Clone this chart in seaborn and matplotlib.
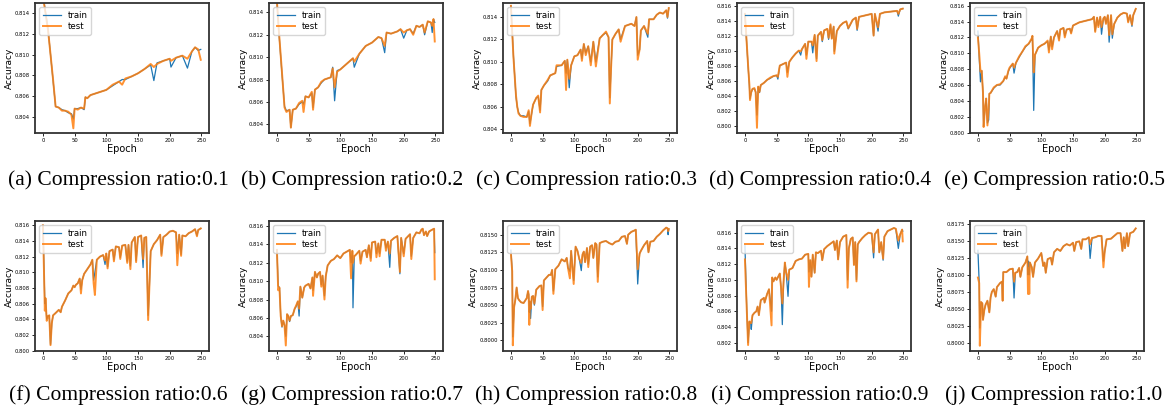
import matplotlib
matplotlib.use("Agg")
import matplotlib.pyplot as plt
import seaborn as sns
from matplotlib.ticker import MultipleLocator

# ---- data (epoch, train accuracy, test accuracy) ----
a_epoch = [0, 8, 12, 16, 20, 25, 30, 35, 40, 45, 48, 50, 55, 60, 65, 67, 70, 75, 80, 90, 100, 110, 120, 125, 130, 140, 150, 160, 170, 175, 180, 190, 200, 202, 210, 220, 228, 235, 240, 245, 249]
a_train = [0.8158, 0.8125, 0.8100, 0.8075, 0.8050, 0.8049, 0.8047, 0.8046, 0.8044, 0.8043, 0.8038, 0.8048, 0.8048, 0.8049, 0.8047, 0.8059, 0.8058, 0.8061, 0.8062, 0.8064, 0.8066, 0.8070, 0.8074, 0.8076, 0.8076, 0.8079, 0.8082, 0.8086, 0.8090, 0.8075, 0.8092, 0.8094, 0.8096, 0.8088, 0.8097, 0.8099, 0.8087, 0.8103, 0.8107, 0.8104, 0.8105]
a_test = [0.8156, 0.8124, 0.8100, 0.8076, 0.8050, 0.8049, 0.8046, 0.8046, 0.8045, 0.8042, 0.8029, 0.8048, 0.8047, 0.8049, 0.8048, 0.8059, 0.8058, 0.8061, 0.8062, 0.8064, 0.8066, 0.8071, 0.8074, 0.8071, 0.8077, 0.8079, 0.8082, 0.8086, 0.8091, 0.8088, 0.8091, 0.8094, 0.8096, 0.8094, 0.8097, 0.8099, 0.8096, 0.8103, 0.8107, 0.8105, 0.8095]

b_epoch = [0, 3, 8, 12, 15, 20, 22, 25, 30, 35, 40, 42, 45, 50, 55, 57, 60, 65, 70, 75, 80, 85, 88, 91, 95, 100, 110, 120, 122, 130, 140, 150, 160, 165, 170, 173, 180, 190, 195, 200, 205, 210, 215, 220, 225, 230, 233, 238, 243, 245, 247, 249]
b_train = [0.8150, 0.8123, 0.8085, 0.8056, 0.8052, 0.8053, 0.8037, 0.8053, 0.8054, 0.8058, 0.8060, 0.8058, 0.8065, 0.8064, 0.8068, 0.8055, 0.8071, 0.8073, 0.8077, 0.8080, 0.8081, 0.8082, 0.8091, 0.8061, 0.8088, 0.8089, 0.8094, 0.8099, 0.8091, 0.8103, 0.8110, 0.8113, 0.8118, 0.8117, 0.8104, 0.8122, 0.8121, 0.8123, 0.8125, 0.8117, 0.8124, 0.8125, 0.8121, 0.8128, 0.8127, 0.8129, 0.8120, 0.8132, 0.8131, 0.8122, 0.8134, 0.8131]
b_test = [0.8150, 0.8124, 0.8086, 0.8055, 0.8051, 0.8053, 0.8037, 0.8053, 0.8054, 0.8059, 0.8061, 0.8051, 0.8065, 0.8064, 0.8069, 0.8053, 0.8071, 0.8073, 0.8078, 0.8080, 0.8081, 0.8082, 0.8090, 0.8073, 0.8087, 0.8089, 0.8094, 0.8099, 0.8096, 0.8103, 0.8110, 0.8113, 0.8118, 0.8117, 0.8110, 0.8122, 0.8121, 0.8123, 0.8125, 0.8122, 0.8124, 0.8125, 0.8120, 0.8128, 0.8127, 0.8129, 0.8122, 0.8132, 0.8131, 0.8128, 0.8134, 0.8114]

c_epoch = [0, 4, 8, 10, 12, 15, 20, 25, 28, 30, 33, 35, 40, 43, 46, 48, 52, 58, 62, 70, 72, 80, 85, 87, 89, 92, 95, 100, 105, 110, 112, 115, 118, 122, 126, 130, 134, 140, 145, 150, 154, 156, 158, 160, 165, 170, 173, 180, 190, 195, 198, 200, 203, 205, 210, 216, 218, 225, 230, 235, 240, 245, 247, 249]
c_train = [0.8150, 0.8105, 0.8069, 0.8060, 0.8055, 0.8052, 0.8052, 0.8051, 0.8056, 0.8045, 0.8055, 0.8062, 0.8068, 0.8069, 0.8057, 0.8075, 0.8079, 0.8083, 0.8088, 0.8090, 0.8096, 0.8097, 0.8101, 0.8090, 0.8102, 0.8077, 0.8097, 0.8105, 0.8106, 0.8111, 0.8103, 0.8116, 0.8108, 0.8114, 0.8100, 0.8118, 0.8100, 0.8121, 0.8124, 0.8126, 0.8122, 0.8068, 0.8095, 0.8120, 0.8125, 0.8129, 0.8120, 0.8132, 0.8134, 0.8132, 0.8140, 0.8106, 0.8111, 0.8128, 0.8132, 0.8122, 0.8138, 0.8138, 0.8142, 0.8144, 0.8143, 0.8146, 0.8139, 0.8148]
c_test = [0.8150, 0.8104, 0.8070, 0.8060, 0.8054, 0.8052, 0.8051, 0.8051, 0.8057, 0.8043, 0.8056, 0.8062, 0.8068, 0.8070, 0.8055, 0.8075, 0.8079, 0.8084, 0.8088, 0.8090, 0.8097, 0.8097, 0.8101, 0.8075, 0.8102, 0.8085, 0.8097, 0.8105, 0.8106, 0.8111, 0.8101, 0.8116, 0.8106, 0.8114, 0.8097, 0.8118, 0.8096, 0.8121, 0.8124, 0.8127, 0.8122, 0.8063, 0.8095, 0.8120, 0.8125, 0.8129, 0.8118, 0.8132, 0.8134, 0.8132, 0.8140, 0.8102, 0.8111, 0.8128, 0.8132, 0.8125, 0.8138, 0.8138, 0.8142, 0.8144, 0.8143, 0.8146, 0.8140, 0.8148]

d_epoch = [0, 5, 7, 8, 10, 12, 15, 17, 19, 21, 23, 25, 30, 35, 40, 45, 50, 52, 55, 60, 65, 67, 70, 75, 80, 85, 88, 90, 95, 97, 100, 105, 107, 110, 113, 115, 120, 122, 125, 130, 132, 135, 137, 140, 141, 145, 150, 155, 160, 163, 170, 175, 177, 180, 190, 200, 203, 205, 210, 213, 220, 230, 240, 242, 245, 249]
d_train = [0.8150, 0.8080, 0.8055, 0.8037, 0.8045, 0.8050, 0.8050, 0.8046, 0.8015, 0.8053, 0.8045, 0.8055, 0.8058, 0.8062, 0.8064, 0.8067, 0.8068, 0.8063, 0.8081, 0.8083, 0.8085, 0.8072, 0.8086, 0.8092, 0.8097, 0.8101, 0.8095, 0.8103, 0.8110, 0.8095, 0.8113, 0.8113, 0.8098, 0.8122, 0.8090, 0.8121, 0.8126, 0.8113, 0.8128, 0.8130, 0.8116, 0.8135, 0.8117, 0.8133, 0.8100, 0.8127, 0.8134, 0.8138, 0.8140, 0.8130, 0.8142, 0.8145, 0.8128, 0.8146, 0.8148, 0.8150, 0.8121, 0.8150, 0.8127, 0.8150, 0.8152, 0.8153, 0.8154, 0.8147, 0.8156, 0.8157]
d_test = [0.8150, 0.8081, 0.8056, 0.8035, 0.8046, 0.8050, 0.8051, 0.8045, 0.7998, 0.8053, 0.8046, 0.8055, 0.8058, 0.8062, 0.8065, 0.8067, 0.8068, 0.8066, 0.8081, 0.8083, 0.8085, 0.8066, 0.8086, 0.8092, 0.8097, 0.8101, 0.8100, 0.8103, 0.8110, 0.8090, 0.8113, 0.8113, 0.8108, 0.8122, 0.8087, 0.8121, 0.8126, 0.8115, 0.8128, 0.8130, 0.8118, 0.8136, 0.8117, 0.8133, 0.8097, 0.8127, 0.8134, 0.8138, 0.8140, 0.8131, 0.8142, 0.8145, 0.8130, 0.8146, 0.8148, 0.8150, 0.8121, 0.8150, 0.8132, 0.8150, 0.8152, 0.8153, 0.8154, 0.8150, 0.8156, 0.8157]

e_epoch = [0, 2, 4, 6, 8, 9, 11, 13, 15, 17, 18, 20, 25, 30, 35, 40, 43, 45, 48, 50, 55, 57, 60, 65, 70, 75, 80, 85, 86, 88, 90, 95, 100, 105, 110, 112, 115, 117, 120, 125, 128, 130, 135, 137, 140, 145, 147, 150, 160, 170, 180, 183, 185, 188, 190, 193, 195, 198, 200, 202, 205, 207, 210, 212, 215, 220, 225, 230, 235, 237, 240, 243, 245, 249]
e_train = [0.8128, 0.8095, 0.8064, 0.8078, 0.8050, 0.8008, 0.8030, 0.8043, 0.8012, 0.8016, 0.8049, 0.8050, 0.8056, 0.8060, 0.8060, 0.8065, 0.8070, 0.8068, 0.8077, 0.8081, 0.8087, 0.8075, 0.8088, 0.8095, 0.8102, 0.8108, 0.8112, 0.8118, 0.8122, 0.8028, 0.8098, 0.8107, 0.8110, 0.8112, 0.8115, 0.8104, 0.8121, 0.8108, 0.8120, 0.8128, 0.8118, 0.8130, 0.8132, 0.8122, 0.8130, 0.8131, 0.8126, 0.8135, 0.8139, 0.8141, 0.8143, 0.8146, 0.8128, 0.8145, 0.8135, 0.8146, 0.8124, 0.8144, 0.8146, 0.8138, 0.8148, 0.8114, 0.8148, 0.8119, 0.8137, 0.8145, 0.8149, 0.8151, 0.8150, 0.8140, 0.8148, 0.8134, 0.8148, 0.8156]
e_test = [0.8120, 0.8100, 0.8077, 0.8078, 0.8050, 0.8007, 0.8030, 0.8043, 0.8009, 0.8030, 0.8049, 0.8050, 0.8057, 0.8060, 0.8061, 0.8065, 0.8071, 0.8068, 0.8078, 0.8082, 0.8087, 0.8082, 0.8088, 0.8096, 0.8102, 0.8109, 0.8112, 0.8119, 0.8122, 0.8076, 0.8098, 0.8107, 0.8110, 0.8112, 0.8116, 0.8101, 0.8121, 0.8105, 0.8120, 0.8128, 0.8116, 0.8130, 0.8132, 0.8120, 0.8130, 0.8131, 0.8125, 0.8135, 0.8139, 0.8141, 0.8143, 0.8146, 0.8127, 0.8145, 0.8133, 0.8146, 0.8133, 0.8144, 0.8146, 0.8137, 0.8148, 0.8123, 0.8148, 0.8124, 0.8137, 0.8145, 0.8149, 0.8151, 0.8150, 0.8139, 0.8148, 0.8136, 0.8148, 0.8156]

f_epoch = [0, 1, 3, 4, 6, 8, 10, 12, 14, 16, 20, 25, 28, 30, 35, 40, 45, 48, 50, 52, 55, 58, 60, 62, 65, 70, 75, 78, 80, 82, 85, 90, 95, 98, 100, 102, 105, 110, 112, 115, 120, 122, 125, 130, 133, 135, 138, 140, 145, 147, 150, 155, 158, 160, 163, 166, 168, 170, 175, 180, 185, 187, 190, 195, 200, 205, 210, 212, 215, 218, 220, 225, 230, 235, 240, 243, 245, 249]
f_train = [0.8160, 0.8128, 0.8060, 0.8067, 0.8040, 0.8044, 0.8045, 0.8008, 0.8035, 0.8045, 0.8048, 0.8052, 0.8049, 0.8056, 0.8064, 0.8073, 0.8077, 0.8083, 0.8081, 0.8084, 0.8086, 0.8092, 0.8078, 0.8090, 0.8098, 0.8104, 0.8110, 0.8116, 0.8090, 0.8100, 0.8116, 0.8120, 0.8122, 0.8110, 0.8124, 0.8107, 0.8127, 0.8129, 0.8116, 0.8133, 0.8132, 0.8119, 0.8134, 0.8135, 0.8114, 0.8135, 0.8108, 0.8138, 0.8145, 0.8115, 0.8145, 0.8147, 0.8106, 0.8144, 0.8145, 0.8045, 0.8083, 0.8127, 0.8136, 0.8141, 0.8148, 0.8123, 0.8145, 0.8148, 0.8152, 0.8153, 0.8151, 0.8124, 0.8148, 0.8123, 0.8147, 0.8146, 0.8150, 0.8152, 0.8155, 0.8147, 0.8154, 0.8156]
f_test = [0.8160, 0.8126, 0.8051, 0.8067, 0.8038, 0.8044, 0.8045, 0.8007, 0.8035, 0.8045, 0.8048, 0.8052, 0.8049, 0.8056, 0.8064, 0.8073, 0.8077, 0.8083, 0.8081, 0.8084, 0.8086, 0.8092, 0.8073, 0.8090, 0.8098, 0.8104, 0.8110, 0.8116, 0.8086, 0.8071, 0.8116, 0.8120, 0.8122, 0.8115, 0.8124, 0.8105, 0.8127, 0.8129, 0.8114, 0.8133, 0.8132, 0.8117, 0.8134, 0.8135, 0.8112, 0.8135, 0.8104, 0.8138, 0.8145, 0.8113, 0.8145, 0.8147, 0.8117, 0.8144, 0.8145, 0.8039, 0.8083, 0.8127, 0.8136, 0.8141, 0.8148, 0.8121, 0.8145, 0.8148, 0.8152, 0.8153, 0.8151, 0.8109, 0.8148, 0.8121, 0.8147, 0.8146, 0.8150, 0.8152, 0.8155, 0.8146, 0.8154, 0.8156]

g_epoch = [0, 2, 4, 6, 8, 10, 12, 14, 16, 18, 20, 22, 25, 28, 30, 33, 35, 37, 40, 43, 45, 50, 53, 56, 57, 60, 63, 65, 68, 70, 72, 75, 77, 80, 85, 90, 95, 100, 105, 110, 115, 117, 119, 120, 122, 125, 130, 132, 135, 140, 142, 145, 148, 150, 155, 157, 160, 162, 165, 170, 172, 175, 178, 180, 185, 190, 194, 196, 200, 203, 210, 212, 215, 220, 225, 228, 230, 232, 235, 237, 240, 245, 248, 249]
g_train = [0.8134, 0.8095, 0.8093, 0.8062, 0.8050, 0.8057, 0.8052, 0.8040, 0.8064, 0.8062, 0.8056, 0.8062, 0.8063, 0.8070, 0.8072, 0.8078, 0.8062, 0.8094, 0.8082, 0.8093, 0.8095, 0.8097, 0.8092, 0.8104, 0.8090, 0.8110, 0.8104, 0.8108, 0.8110, 0.8096, 0.8106, 0.8084, 0.8105, 0.8117, 0.8122, 0.8124, 0.8128, 0.8125, 0.8130, 0.8132, 0.8134, 0.8120, 0.8133, 0.8071, 0.8127, 0.8129, 0.8133, 0.8122, 0.8132, 0.8134, 0.8126, 0.8139, 0.8125, 0.8142, 0.8143, 0.8130, 0.8141, 0.8130, 0.8145, 0.8145, 0.8136, 0.8143, 0.8115, 0.8144, 0.8147, 0.8149, 0.8108, 0.8147, 0.8130, 0.8146, 0.8151, 0.8127, 0.8147, 0.8153, 0.8152, 0.8156, 0.8157, 0.8150, 0.8154, 0.8149, 0.8154, 0.8156, 0.8157, 0.8131]
g_test = [0.8134, 0.8090, 0.8093, 0.8062, 0.8051, 0.8057, 0.8052, 0.8030, 0.8064, 0.8062, 0.8057, 0.8062, 0.8063, 0.8070, 0.8073, 0.8078, 0.8070, 0.8094, 0.8082, 0.8093, 0.8095, 0.8097, 0.8092, 0.8104, 0.8084, 0.8110, 0.8104, 0.8108, 0.8110, 0.8094, 0.8106, 0.8080, 0.8105, 0.8117, 0.8122, 0.8124, 0.8128, 0.8125, 0.8130, 0.8132, 0.8134, 0.8103, 0.8133, 0.8120, 0.8127, 0.8129, 0.8133, 0.8119, 0.8132, 0.8134, 0.8126, 0.8139, 0.8122, 0.8142, 0.8143, 0.8126, 0.8141, 0.8127, 0.8145, 0.8145, 0.8133, 0.8143, 0.8130, 0.8144, 0.8147, 0.8149, 0.8110, 0.8147, 0.8127, 0.8146, 0.8151, 0.8124, 0.8147, 0.8153, 0.8152, 0.8156, 0.8157, 0.8150, 0.8154, 0.8149, 0.8154, 0.8156, 0.8157, 0.8102]

h_epoch = [0, 2, 3, 5, 7, 9, 11, 13, 16, 20, 25, 27, 28, 29, 30, 31, 33, 35, 37, 40, 45, 48, 50, 52, 55, 60, 63, 65, 67, 70, 75, 80, 85, 88, 90, 93, 95, 99, 102, 105, 108, 111, 113, 115, 117, 120, 122, 125, 128, 130, 133, 135, 137, 140, 145, 150, 155, 160, 165, 170, 175, 180, 183, 185, 190, 195, 197, 200, 203, 205, 210, 215, 217, 220, 225, 230, 235, 240, 245, 247, 248, 249]
h_train = [0.8128, 0.8098, 0.8005, 0.8047, 0.8058, 0.8075, 0.8060, 0.8057, 0.8054, 0.8053, 0.8060, 0.8070, 0.8065, 0.8040, 0.8055, 0.8031, 0.8062, 0.8063, 0.8050, 0.8072, 0.8077, 0.8078, 0.8048, 0.8085, 0.8088, 0.8093, 0.8093, 0.8100, 0.8070, 0.8101, 0.8106, 0.8115, 0.8112, 0.8117, 0.8103, 0.8098, 0.8127, 0.8085, 0.8133, 0.8127, 0.8115, 0.8099, 0.8122, 0.8126, 0.8111, 0.8131, 0.8108, 0.8133, 0.8135, 0.8117, 0.8138, 0.8136, 0.8090, 0.8138, 0.8140, 0.8141, 0.8138, 0.8136, 0.8140, 0.8141, 0.8147, 0.8148, 0.8137, 0.8150, 0.8154, 0.8156, 0.8157, 0.8080, 0.8123, 0.8127, 0.8135, 0.8141, 0.8125, 0.8140, 0.8141, 0.8147, 0.8151, 0.8156, 0.8160, 0.8159, 0.8150, 0.8158]
h_test = [0.8123, 0.8098, 0.7993, 0.8047, 0.8058, 0.8075, 0.8060, 0.8057, 0.8054, 0.8053, 0.8060, 0.8070, 0.8065, 0.8022, 0.8055, 0.8045, 0.8062, 0.8063, 0.8052, 0.8072, 0.8077, 0.8078, 0.8043, 0.8085, 0.8088, 0.8093, 0.8093, 0.8100, 0.8066, 0.8101, 0.8106, 0.8115, 0.8112, 0.8117, 0.8103, 0.8088, 0.8127, 0.8080, 0.8133, 0.8127, 0.8115, 0.8110, 0.8122, 0.8126, 0.8111, 0.8131, 0.8104, 0.8133, 0.8135, 0.8117, 0.8138, 0.8136, 0.8083, 0.8138, 0.8140, 0.8141, 0.8138, 0.8136, 0.8140, 0.8141, 0.8147, 0.8148, 0.8137, 0.8150, 0.8154, 0.8156, 0.8157, 0.8101, 0.8123, 0.8127, 0.8135, 0.8141, 0.8125, 0.8140, 0.8141, 0.8147, 0.8151, 0.8156, 0.8160, 0.8159, 0.8155, 0.8158]

i_epoch = [0, 3, 5, 7, 9, 10, 12, 15, 18, 20, 22, 25, 30, 31, 35, 38, 42, 43, 45, 48, 50, 55, 57, 59, 61, 63, 65, 68, 70, 75, 80, 85, 90, 95, 100, 101, 103, 105, 107, 110, 112, 115, 120, 122, 125, 130, 135, 140, 142, 145, 147, 150, 155, 160, 162, 164, 167, 170, 172, 174, 176, 178, 180, 185, 190, 195, 200, 203, 205, 210, 212, 215, 218, 220, 225, 230, 235, 238, 242, 245, 248, 249]
i_train = [0.8144, 0.8060, 0.8020, 0.8047, 0.8045, 0.8037, 0.8055, 0.8058, 0.8060, 0.8066, 0.8055, 0.8074, 0.8077, 0.8071, 0.8082, 0.8088, 0.8060, 0.8103, 0.8098, 0.8103, 0.8100, 0.8108, 0.8090, 0.8043, 0.8098, 0.8122, 0.8110, 0.8079, 0.8113, 0.8115, 0.8124, 0.8126, 0.8127, 0.8132, 0.8133, 0.8110, 0.8125, 0.8104, 0.8132, 0.8109, 0.8135, 0.8134, 0.8137, 0.8125, 0.8139, 0.8143, 0.8146, 0.8149, 0.8138, 0.8150, 0.8126, 0.8148, 0.8155, 0.8157, 0.8100, 0.8140, 0.8152, 0.8154, 0.8119, 0.8148, 0.8100, 0.8145, 0.8148, 0.8153, 0.8157, 0.8160, 0.8159, 0.8128, 0.8158, 0.8164, 0.8135, 0.8148, 0.8125, 0.8155, 0.8162, 0.8164, 0.8166, 0.8165, 0.8140, 0.8158, 0.8164, 0.8162]
i_test = [0.8126, 0.8060, 0.8017, 0.8047, 0.8045, 0.8045, 0.8055, 0.8058, 0.8060, 0.8066, 0.8055, 0.8074, 0.8077, 0.8071, 0.8082, 0.8088, 0.8042, 0.8103, 0.8098, 0.8103, 0.8100, 0.8108, 0.8090, 0.8070, 0.8098, 0.8122, 0.8110, 0.8100, 0.8113, 0.8115, 0.8124, 0.8126, 0.8127, 0.8132, 0.8133, 0.8091, 0.8125, 0.8104, 0.8132, 0.8109, 0.8135, 0.8134, 0.8137, 0.8125, 0.8139, 0.8143, 0.8146, 0.8149, 0.8138, 0.8150, 0.8126, 0.8148, 0.8155, 0.8157, 0.8090, 0.8140, 0.8152, 0.8154, 0.8119, 0.8148, 0.8098, 0.8145, 0.8148, 0.8153, 0.8157, 0.8160, 0.8159, 0.8135, 0.8158, 0.8164, 0.8135, 0.8148, 0.8127, 0.8155, 0.8162, 0.8164, 0.8166, 0.8165, 0.8150, 0.8158, 0.8164, 0.8149]

j_epoch = [0, 2, 3, 5, 7, 8, 10, 12, 15, 18, 20, 22, 25, 28, 30, 35, 38, 39, 40, 45, 50, 55, 57, 59, 62, 65, 67, 70, 75, 78, 79, 80, 81, 82, 85, 87, 90, 95, 100, 103, 105, 107, 110, 115, 117, 120, 125, 130, 135, 140, 145, 150, 152, 155, 160, 163, 165, 170, 175, 177, 180, 185, 190, 195, 198, 200, 203, 210, 215, 220, 225, 228, 230, 232, 235, 237, 240, 245, 249]
j_train = [0.8136, 0.8088, 0.8022, 0.8060, 0.8058, 0.8034, 0.8048, 0.8056, 0.8062, 0.8045, 0.8067, 0.8075, 0.8079, 0.8068, 0.8082, 0.8088, 0.8090, 0.8062, 0.8104, 0.8104, 0.8108, 0.8109, 0.8066, 0.8103, 0.8104, 0.8110, 0.8097, 0.8111, 0.8118, 0.8127, 0.8100, 0.8120, 0.8100, 0.8118, 0.8111, 0.8097, 0.8118, 0.8124, 0.8132, 0.8113, 0.8118, 0.8103, 0.8123, 0.8125, 0.8115, 0.8133, 0.8138, 0.8135, 0.8142, 0.8145, 0.8143, 0.8147, 0.8135, 0.8148, 0.8149, 0.8138, 0.8152, 0.8152, 0.8155, 0.8124, 0.8154, 0.8155, 0.8157, 0.8157, 0.8120, 0.8134, 0.8152, 0.8153, 0.8157, 0.8161, 0.8161, 0.8135, 0.8155, 0.8139, 0.8161, 0.8142, 0.8161, 0.8163, 0.8168]
j_test = [0.8096, 0.8088, 0.7996, 0.8060, 0.8058, 0.8034, 0.8048, 0.8056, 0.8062, 0.8045, 0.8067, 0.8075, 0.8079, 0.8068, 0.8082, 0.8088, 0.8090, 0.8062, 0.8104, 0.8104, 0.8108, 0.8109, 0.8090, 0.8103, 0.8104, 0.8110, 0.8097, 0.8111, 0.8118, 0.8127, 0.8072, 0.8110, 0.8072, 0.8118, 0.8111, 0.8097, 0.8118, 0.8124, 0.8132, 0.8113, 0.8118, 0.8103, 0.8123, 0.8125, 0.8115, 0.8133, 0.8138, 0.8135, 0.8142, 0.8145, 0.8143, 0.8147, 0.8135, 0.8148, 0.8149, 0.8138, 0.8152, 0.8152, 0.8155, 0.8145, 0.8154, 0.8155, 0.8157, 0.8157, 0.8111, 0.8134, 0.8152, 0.8153, 0.8157, 0.8161, 0.8161, 0.8135, 0.8155, 0.8139, 0.8161, 0.8142, 0.8161, 0.8163, 0.8168]

ratios = ["0.1", "0.2", "0.3", "0.4", "0.5", "0.6", "0.7", "0.8", "0.9", "1.0"]
letters = ["a", "b", "c", "d", "e", "f", "g", "h", "i", "j"]
series = [(a_epoch, a_train, a_test), (b_epoch, b_train, b_test), (c_epoch, c_train, c_test),
          (d_epoch, d_train, d_test), (e_epoch, e_train, e_test), (f_epoch, f_train, f_test),
          (g_epoch, g_train, g_test), (h_epoch, h_train, h_test), (i_epoch, i_train, i_test),
          (j_epoch, j_train, j_test)]

# y limits / tick spacing per panel (as in the figure)
ylims = [(0.80245, 0.81497), (0.80322, 0.81484), (0.80367, 0.81525), (0.79911, 0.81645), (0.79995, 0.81634),
         (0.79995, 0.81655), (0.80240, 0.81654), (0.79849, 0.81694), (0.80094, 0.81749), (0.79883, 0.81789)]
ysteps = [0.002, 0.002, 0.002, 0.002, 0.002, 0.002, 0.002, 0.0025, 0.002, 0.0025]

W, H = 1173, 413
fig = plt.figure(figsize=(W / 100, H / 100), dpi=100)

lefts = [35, 269, 503, 737, 970]
tops = [3, 221]
aw, ah = 174, 130
cap_x = [118, 352, 586, 820, 1054]
cap_y = [180, 395]

for k, (ep, tr, te) in enumerate(series):
    row, col = divmod(k, 5)
    ax = fig.add_axes([lefts[col] / W, 1 - (tops[row] + ah) / H, aw / W, ah / H])
    sns.lineplot(x=ep, y=tr, ax=ax, color="#1f77b4", linewidth=0.9, label="train")
    sns.lineplot(x=ep, y=te, ax=ax, color="#ff7f0e", linewidth=1.4, alpha=0.85, label="test")
    ax.set_xlim(-12.5, 262)
    ax.set_ylim(*ylims[k])
    ax.xaxis.set_major_locator(MultipleLocator(50))
    ax.yaxis.set_major_locator(MultipleLocator(ysteps[k]))
    ax.tick_params(labelsize=3.8, length=2, width=0.6, pad=1.5)
    ax.set_xlabel("Epoch", fontsize=7, labelpad=0.5)
    ax.set_ylabel("Accuracy", fontsize=6.5, labelpad=1)
    for sp in ax.spines.values():
        sp.set_linewidth(1.3)
        sp.set_color("#333333")
    ax.legend(loc="upper left", fontsize=6.2, handlelength=2.1, labelspacing=0.3, borderpad=0.4)
    fig.text(cap_x[col] / W, 1 - cap_y[row] / H, f"({letters[k]}) Compression ratio:{ratios[k]}",
             ha="center", va="center", fontsize=15.5, family="Liberation Serif")

fig.savefig("out.png", dpi=100)
